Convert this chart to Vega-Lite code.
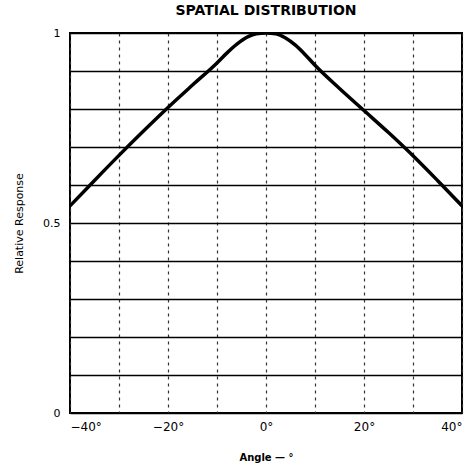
{
  "$schema": "https://vega.github.io/schema/vega-lite/v6.json",
  "width": 392,
  "height": 380,
  "autosize": {"type": "none"},
  "padding": {"left": 70, "top": 33, "right": 8, "bottom": 58},
  "background": "white",
  "title": {
    "text": "SPATIAL DISTRIBUTION",
    "font": "DejaVu Sans",
    "fontSize": 14,
    "fontWeight": "bold",
    "color": "black",
    "anchor": "middle",
    "offset": 9
  },
  "config": {
    "view": {"stroke": "black", "strokeWidth": 2},
    "axis": {"labelFont": "DejaVu Sans", "titleFont": "DejaVu Sans", "labelColor": "black", "titleColor": "black"}
  },
  "data": {
    "values": [
      {"angle": -40, "response": 0.545},
      {"angle": -35, "response": 0.612},
      {"angle": -30, "response": 0.678},
      {"angle": -25, "response": 0.742},
      {"angle": -20, "response": 0.804},
      {"angle": -15, "response": 0.863},
      {"angle": -10, "response": 0.921},
      {"angle": -8, "response": 0.947},
      {"angle": -6, "response": 0.97},
      {"angle": -4, "response": 0.988},
      {"angle": -2, "response": 0.998},
      {"angle": 0, "response": 1.0},
      {"angle": 2, "response": 0.998},
      {"angle": 4, "response": 0.987},
      {"angle": 6, "response": 0.968},
      {"angle": 8, "response": 0.943},
      {"angle": 10, "response": 0.915},
      {"angle": 15, "response": 0.854},
      {"angle": 20, "response": 0.796},
      {"angle": 25, "response": 0.738},
      {"angle": 30, "response": 0.677},
      {"angle": 35, "response": 0.612},
      {"angle": 40, "response": 0.545}
    ]
  },
  "mark": {"type": "line", "color": "black", "strokeWidth": 3.5, "interpolate": "monotone", "clip": true},
  "encoding": {
    "x": {
      "field": "angle",
      "type": "quantitative",
      "scale": {"domain": [-40, 40], "nice": false, "zero": false},
      "axis": {
        "title": "Angle — °",
        "titleFontSize": 10,
        "titleFontWeight": "bold",
        "titlePadding": 20,
        "values": [-40, -30, -20, -10, 0, 10, 20, 30, 40],
        "labelExpr": "datum.value % 20 == 0 ? (datum.value < 0 ? '−' + abs(datum.value) : datum.value) + '°' : ''",
        "labelFontSize": 12,
        "labelPadding": 8,
        "ticks": false,
        "domain": false,
        "grid": true,
        "gridColor": "#333333",
        "gridWidth": 1.2,
        "gridDash": [3, 4]
      }
    },
    "y": {
      "field": "response",
      "type": "quantitative",
      "scale": {"domain": [0, 1], "nice": false},
      "axis": {
        "title": "Relative Response",
        "titleFontSize": 11,
        "titleFontWeight": "normal",
        "titlePadding": 18,
        "values": [0, 0.1, 0.2, 0.3, 0.4, 0.5, 0.6, 0.7, 0.8, 0.9, 1],
        "labelExpr": "datum.value == 0 ? '0' : datum.value == 0.5 ? '0.5' : datum.value == 1 ? '1' : ''",
        "labelFontSize": 11,
        "labelPadding": 10,
        "ticks": false,
        "domain": false,
        "grid": true,
        "gridColor": "black",
        "gridWidth": 1.6
      }
    }
  }
}
